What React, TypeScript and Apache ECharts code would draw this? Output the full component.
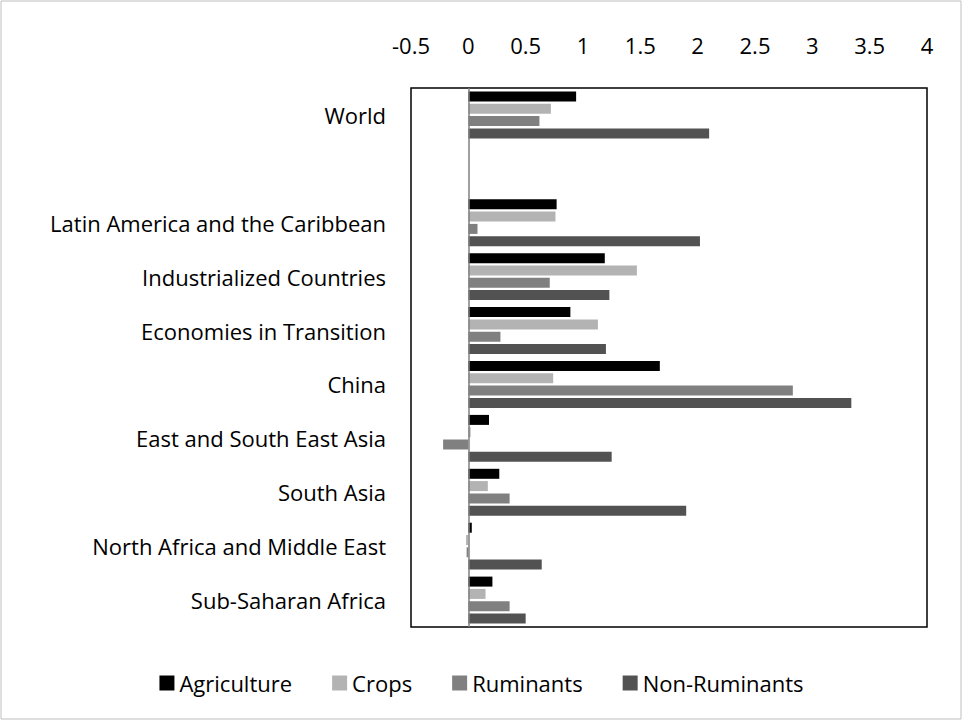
import React, { useEffect, useRef } from "react";
import * as echarts from "echarts";

const categories = [
  "World",
  "",
  "Latin America and the Caribbean",
  "Industrialized Countries",
  "Economies in Transition",
  "China",
  "East and South East Asia",
  "South Asia",
  "North Africa and Middle East",
  "Sub-Saharan Africa",
];
const seriesNames = ["Agriculture", "Crops", "Ruminants", "Non-Ruminants"];
const agriculture = [0.94, null, 0.77, 1.19, 0.89, 1.67, 0.18, 0.27, 0.03, 0.21];
const crops = [0.72, null, 0.76, 1.47, 1.13, 0.74, 0.02, 0.17, -0.02, 0.15];
const ruminants = [0.62, null, 0.08, 0.71, 0.28, 2.83, -0.22, 0.36, -0.015, 0.36];
const nonRuminants = [2.1, null, 2.02, 1.23, 1.2, 3.34, 1.25, 1.9, 0.64, 0.5];
const colors = ["#000000", "#b3b3b3", "#808080", "#525252"];

const FONT = "Open Sans";
const FS = 22;

export default function App() {
  const ref = useRef<HTMLDivElement>(null);
  useEffect(() => {
    if (!ref.current) return;
    const chart = echarts.init(ref.current, null, { renderer: "svg" });
    const data = [agriculture, crops, ruminants, nonRuminants];
    chart.setOption({
      animation: false,
      backgroundColor: "#ffffff",
      textStyle: { fontFamily: FONT },
      graphic: [
        {
          type: "rect",
          shape: { x: 1, y: 1, width: 960, height: 718 },
          style: { fill: "none", stroke: "#bfbfbf", lineWidth: 1 },
          silent: true,
        },
      ],
      grid: {
        left: 411,
        right: 36,
        top: 88,
        bottom: 94,
        show: true,
        borderColor: "#000",
        borderWidth: 1.5,
        backgroundColor: "transparent",
      },
      legend: {
        top: 667,
        left: "center",
        itemWidth: 15,
        itemHeight: 15,
        itemGap: 40,
        icon: "rect",
        textStyle: { fontFamily: FONT, fontSize: FS, color: "#000" },
        data: seriesNames,
      },
      xAxis: {
        type: "value",
        position: "top",
        min: -0.5,
        max: 4,
        interval: 0.5,
        axisLine: { show: false },
        axisTick: { show: false },
        splitLine: { show: false },
        axisLabel: { fontFamily: FONT, fontSize: FS, color: "#000", margin: 32 },
      },
      yAxis: {
        type: "category",
        inverse: true,
        data: categories,
        axisLine: { show: false },
        axisTick: { show: false },
        axisLabel: { fontFamily: FONT, fontSize: FS, color: "#000", margin: 25 },
      },
      series: seriesNames.map((name, i) => ({
        name,
        type: "bar",
        data: data[i],
        barWidth: 10,
        barGap: "23%",
        itemStyle: { color: colors[i] },
        ...(i === 0
          ? {
              markLine: {
                silent: true,
                symbol: "none",
                label: { show: false },
                lineStyle: { color: "#808080", type: "solid", width: 1.5 },
                data: [{ xAxis: 0 }],
              },
            }
          : {}),
      })),
    });
    return () => chart.dispose();
  }, []);
  return (
    <div
      ref={ref}
      style={{ position: "fixed", left: 0, top: 0, width: 963, height: 721 }}
    />
  );
}
